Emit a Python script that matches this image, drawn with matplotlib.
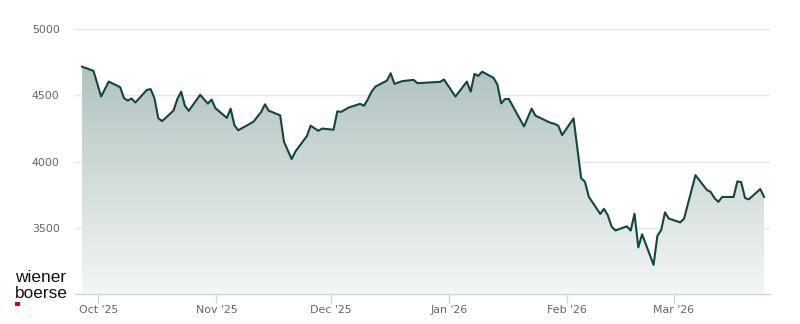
import matplotlib
matplotlib.use("Agg")
import matplotlib.pyplot as plt
import matplotlib.dates as mdates
from matplotlib.colors import to_rgb
import numpy as np
import pandas as pd

# ---- data (index close values) ----
dates = [
    "2025-09-26", "2025-09-29", "2025-10-01", "2025-10-03", "2025-10-06", "2025-10-07",
    "2025-10-08", "2025-10-09", "2025-10-10", "2025-10-13", "2025-10-14", "2025-10-15",
    "2025-10-16", "2025-10-17", "2025-10-20", "2025-10-21", "2025-10-22", "2025-10-23",
    "2025-10-24", "2025-10-27", "2025-10-29", "2025-10-30", "2025-10-31",
    "2025-11-03", "2025-11-04", "2025-11-05", "2025-11-06", "2025-11-10", "2025-11-11",
    "2025-11-12", "2025-11-13", "2025-11-14", "2025-11-17", "2025-11-18", "2025-11-20",
    "2025-11-21", "2025-11-24", "2025-11-25", "2025-11-27", "2025-11-28",
    "2025-12-01", "2025-12-02", "2025-12-03", "2025-12-05", "2025-12-08", "2025-12-09",
    "2025-12-10", "2025-12-11", "2025-12-12", "2025-12-15", "2025-12-16", "2025-12-17",
    "2025-12-19", "2025-12-22", "2025-12-23", "2025-12-29", "2025-12-30",
    "2026-01-02", "2026-01-05", "2026-01-06", "2026-01-07", "2026-01-08", "2026-01-09",
    "2026-01-12", "2026-01-13", "2026-01-14", "2026-01-15", "2026-01-16", "2026-01-20",
    "2026-01-22", "2026-01-23", "2026-01-26", "2026-01-27", "2026-01-28", "2026-01-29",
    "2026-01-30",
    "2026-02-02", "2026-02-04", "2026-02-05", "2026-02-06", "2026-02-09", "2026-02-10",
    "2026-02-11", "2026-02-12", "2026-02-13", "2026-02-16", "2026-02-17", "2026-02-18",
    "2026-02-19", "2026-02-20", "2026-02-23", "2026-02-24", "2026-02-25", "2026-02-26",
    "2026-02-27",
    "2026-03-02", "2026-03-03", "2026-03-06", "2026-03-09", "2026-03-10", "2026-03-11",
    "2026-03-12", "2026-03-13", "2026-03-16", "2026-03-17", "2026-03-18", "2026-03-19",
    "2026-03-20", "2026-03-23", "2026-03-24",
]
values = [
    4718, 4686, 4492, 4605, 4563, 4480,
    4462, 4477, 4447, 4542, 4548, 4480,
    4329, 4306, 4386, 4472, 4529, 4422,
    4384, 4505, 4439, 4469, 4404,
    4331, 4400, 4275, 4237, 4302, 4339,
    4375, 4433, 4385, 4350, 4150, 4020,
    4077, 4193, 4272, 4233, 4250,
    4241, 4380, 4376, 4409, 4437, 4422,
    4471, 4529, 4567, 4612, 4668, 4588,
    4608, 4618, 4593, 4603, 4621,
    4492, 4605, 4529, 4663, 4648, 4680,
    4633, 4584, 4440, 4473, 4474, 4266,
    4401, 4348, 4306, 4293, 4286, 4271,
    4201,
    4327, 3875, 3848, 3735, 3605, 3643,
    3594, 3509, 3480, 3511, 3479, 3607,
    3352, 3451, 3220, 3439, 3483, 3617,
    3570,
    3541, 3569, 3898, 3786, 3771, 3724,
    3696, 3733, 3733, 3851, 3845, 3726,
    3715, 3793, 3734,
]
y_ticks = [3500, 4000, 4500, 5000]
x_tick_dates = ["2025-10-01", "2025-11-01", "2025-12-01", "2026-01-01", "2026-02-01", "2026-03-01"]
x_tick_labels = ["Oct '25", "Nov '25", "Dec '25", "Jan '26", "Feb '26", "Mar '26"]

LINE = "#10473f"
GRID = "#e6e6e6"
AXIS = "#ccd6eb"
LABEL = "#666666"

fig = plt.figure(figsize=(8, 3.24), dpi=100)
ax = fig.add_axes([0.09375, 0.09259, 0.86875, 0.82516])

t = pd.to_datetime(dates) + pd.Timedelta(hours=17.5)
x = mdates.date2num(t)
v = np.array(values, dtype=float)
base = 3000

xlim = (mdates.date2num(pd.Timestamp("2025-09-24 21:00")),
        mdates.date2num(pd.Timestamp("2026-03-26 07:00")))
ylim = (3000, 5020)

# gradient fill under line (opaque, blended with white)
poly = ax.fill_between(x, v, base, color="none", lw=0)
c = np.array(to_rgb(LINE))
alphas = np.linspace(0.33, 0.045, 256)
grad = np.ones((256, 1, 3)) - alphas[:, None, None] * (1 - c)[None, None, :]
im = ax.imshow(grad, extent=[x[0], x[-1], base, v.max()], aspect="auto",
               origin="upper", zorder=1, interpolation="bilinear")
im.set_clip_path(poly.get_paths()[0], transform=ax.transData)

ax.plot(x, v, color=LINE, lw=1.5, zorder=3, solid_joinstyle="round")

ax.set_xlim(*xlim)
ax.set_ylim(*ylim)

ax.set_yticks(y_ticks)
ax.set_yticklabels([str(y) for y in y_ticks])
ax.yaxis.grid(True, color=GRID, lw=1, zorder=0.5)
ax.set_axisbelow(True)
ax.tick_params(axis="y", length=0, pad=11, labelsize=7.9, labelcolor=LABEL)

ax.set_xticks(mdates.date2num(pd.to_datetime(x_tick_dates)))
ax.set_xticklabels(x_tick_labels)
ax.tick_params(axis="x", length=6.5, width=1, color=AXIS, pad=1.5,
               labelsize=7.9, labelcolor=LABEL)

for s in ["top", "right", "left"]:
    ax.spines[s].set_visible(False)
ax.spines["bottom"].set_color(AXIS)
ax.spines["bottom"].set_linewidth(1)
ax.spines["bottom"].set_zorder(4)

# logo
fig.text(15 / 800, 1 - 281.5 / 324, "wiener", family="Liberation Sans", fontsize=12.4,
         color="#111111", ha="left", va="baseline")
fig.text(15 / 800, 1 - 297.5 / 324, "boerse", family="Liberation Sans", fontsize=12.4,
         color="#111111", ha="left", va="baseline")
fig.patches.append(plt.Rectangle((15 / 800, 1 - 306 / 324), 4.5 / 800, 4.5 / 324,
                                 transform=fig.transFigure, color="#d0021b", lw=0))

fig.savefig("out.png", dpi=100)
